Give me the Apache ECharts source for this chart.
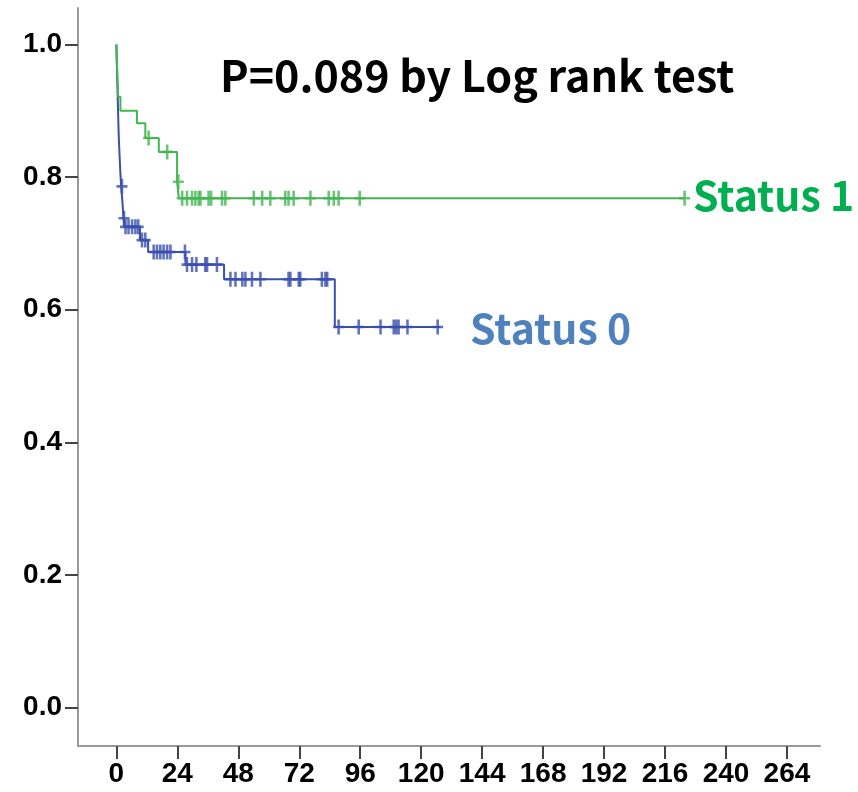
<!DOCTYPE html>
<html>
<head>
<meta charset="utf-8">
<script src="https://cdn.jsdelivr.net/npm/echarts@6/dist/echarts.min.js"></script>
<style>
html,body{margin:0;padding:0;background:#fff;}
#chart{width:858px;height:792px;}
</style>
</head>
<body>
<div id="chart"></div>
<script>
// ---- Data ----
const xTicks = [0, 24, 48, 72, 96, 120, 144, 168, 192, 216, 240, 264];
const yTicks = [0, 0.2, 0.4, 0.6, 0.8, 1.0];

// Status 0 (blue) step curve: event times and survival after each step
const status0Times = [0, 0.2, 0.4, 0.6, 0.8, 1.0, 1.3, 1.6, 1.9, 2.4, 2.8, 3.3, 9.3, 12.5, 27.2, 42.4, 86.0, 127.5];
const status0Surv  = [1.0, 0.97, 0.94, 0.91, 0.88, 0.855, 0.83, 0.805, 0.786, 0.762, 0.738, 0.725, 0.705, 0.687, 0.668, 0.646, 0.574, 0.574];
const status0Censor = [2.2, 3.0, 3.6, 4.8, 6.2, 7.5, 8.6, 10.1, 11.4, 14.7, 16.0, 17.3, 18.6, 20.0, 21.3, 27.0,
  27.8, 29.8, 31.5, 35.0, 35.7, 39.6, 44.9, 46.9, 49.6, 50.8, 53.4, 56.7, 67.8, 68.5, 71.8, 72.4, 80.9, 82.3, 83.0,
  87.5, 95.4, 104.0, 109.2, 110.2, 111.1, 114.6, 126.5];

// Status 1 (green)
const status1Times = [0, 0.3, 0.7, 1.6, 8.1, 11.4, 16.7, 23.9, 24.6, 223.7];
const status1Surv  = [1.0, 0.964, 0.921, 0.900, 0.881, 0.859, 0.838, 0.793, 0.768, 0.768];
const status1Censor = [12.7, 20.0, 24.4, 25.9, 27.8, 29.8, 31.1, 32.4, 33.1, 36.3, 37.3, 41.6, 42.9, 54.1, 57.4, 60.6,
  66.5, 67.8, 69.8, 76.4, 83.6, 85.6, 87.5, 95.8, 223.7];

const titleText = 'P=0.089 by Log rank test';
const label0 = 'Status 0';
const label1 = 'Status 1';

// ---- Helpers ----
function pairs(ts, ss){ return ts.map((t,i)=>[t, ss[i]]); }
function levelAt(ts, ss, t){ let v = ss[0]; for(let i=0;i<ts.length;i++){ if(ts[i] <= t) v = ss[i]; } return v; }
function censorPts(cs, ts, ss){ return cs.map(t=>[t, levelAt(ts, ss, t)]); }

const BLUE = '#3a4fae';
const GREEN = '#45b552';
const plus = 'path://M4.6,0H7.4V6.6H12V9.4H7.4V16H4.6V9.4H0V6.6H4.6Z';
const axisFont = {fontFamily:'"Liberation Sans", Arial, sans-serif', fontWeight:'bold', fontSize:28, color:'#000'};
const annFont = '"Noto Sans CJK KR", "Noto Sans", sans-serif';

const chart = echarts.init(document.getElementById('chart'), null, {renderer:'canvas'});
chart.setOption({
  animation:false,
  backgroundColor:'#fff',
  grid:{left:78, right:38, top:8, bottom:46, containLabel:false},
  xAxis:{
    type:'value', min:-15.1, max:277,
    axisLine:{show:true, onZero:false, lineStyle:{color:'#9a9a9a', width:2}},
    axisTick:{show:true, customValues:xTicks, length:13, lineStyle:{color:'#444', width:2}},
    axisLabel:{customValues:xTicks, margin:14, ...axisFont},
    splitLine:{show:false}
  },
  yAxis:{
    type:'value', min:-0.058, max:1.055,
    axisLine:{show:true, onZero:false, lineStyle:{color:'#9a9a9a', width:2}},
    axisTick:{show:true, customValues:yTicks, length:13, lineStyle:{color:'#444', width:2}},
    axisLabel:{customValues:yTicks, margin:16, formatter:v=>v.toFixed(1), ...axisFont},
    splitLine:{show:false}
  },
  series:[
    {type:'line', step:'end', data:pairs(status0Times, status0Surv), symbol:'none',
     lineStyle:{color:BLUE, width:2}, z:2},
    {type:'scatter', data:censorPts(status0Censor, status0Times, status0Surv), symbol:plus,
     symbolSize:[11,15], itemStyle:{color:BLUE}, z:2},
    {type:'line', step:'end', data:pairs(status1Times, status1Surv), symbol:'none',
     lineStyle:{color:GREEN, width:2}, z:3},
    {type:'scatter', data:censorPts(status1Censor, status1Times, status1Surv), symbol:plus,
     symbolSize:[11,15], itemStyle:{color:GREEN}, z:3}
  ],
  graphic:[
    {type:'text', x:220, y:76, style:{text:titleText, fill:'#000', verticalAlign:'middle',
      font:'bold 43px ' + annFont}},
    {type:'text', x:693, y:195, style:{text:label1, fill:'#00b050', verticalAlign:'middle',
      font:'bold 41px ' + annFont}},
    {type:'text', x:470, y:328, style:{text:label0, fill:'#4f81bd', verticalAlign:'middle',
      font:'bold 41px ' + annFont}}
  ]
});
</script>
</body>
</html>
